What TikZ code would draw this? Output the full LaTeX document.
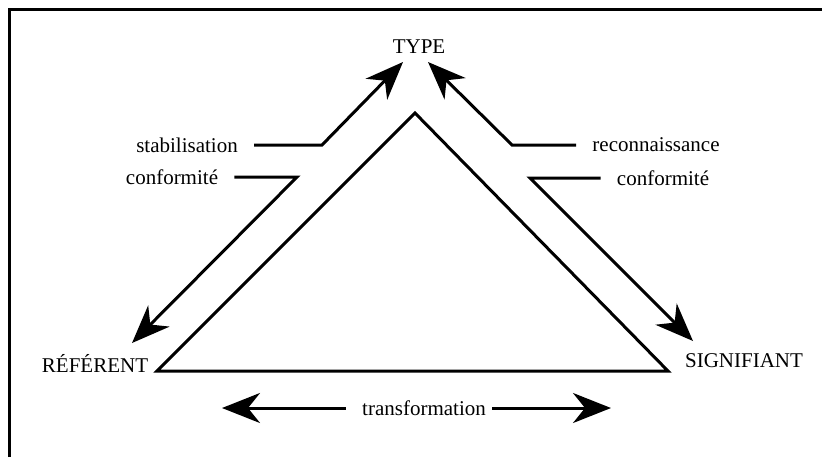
\documentclass[tikz,border=0pt]{standalone}
\usepackage{fontspec}
\setmainfont{Liberation Serif}
\usetikzlibrary{arrows.meta}

\begin{document}
\begin{tikzpicture}[x=0.5pt, y=-0.5pt, font=\fontsize{10.5}{12}\selectfont]
          \tikzstyle{word}=[inner sep=8pt]
          \tikzstyle{edge}=[line width=1.5pt]
          \tikzstyle{flow}=[line width=1.5pt, -{Stealth[length=19pt, width=15pt, inset=6pt]}]

          \useasboundingbox (0,0) rectangle (822,457);
          \draw[edge] (9.5,457) -- (9.5,9.5) -- (822,9.5);

          \node (type) at (419,47) [word] {TYPE};
          \node (referent) at (95,363) [word] {RÉFÉRENT};
          \node (signifiant) at (744,361) [word] {SIGNIFIANT};

          \node (stab) at (187,145) [word] {stabilisation};
          \node (confl) at (172,177) [word] {conformité};
          \node (recon) at (656,145) [word] {reconnaissance};
          \node (confr) at (663,178) [word] {conformité};
          \node (trans) at (424,408) [word] {transformation};

          \coordinate (apex) at (415,113);
          \coordinate (base l) at (157,371);
          \coordinate (base r) at (668,371);
          \draw[edge] (base l) -- (apex) -- (base r) -- cycle;

          \coordinate (stab bend) at (322,145);
          \coordinate (stab tip) at (403,62);
          \coordinate (recon bend) at (512,145);
          \coordinate (recon tip) at (428,62);
          \coordinate (confl bend) at (297,177);
          \coordinate (confl tip) at (132,343);
          \coordinate (confr bend) at (530,178);
          \coordinate (confr tip) at (693,341);
          \coordinate (trans l) at (222,408);
          \coordinate (trans r) at (611,408);

          \draw[flow] (stab.east) -- (stab bend) -- (stab tip);
          \draw[flow] (recon.west) -- (recon bend) -- (recon tip);
          \draw[flow] (confl.east) -- (confl bend) -- (confl tip);
          \draw[flow] (confr.west) -- (confr bend) -- (confr tip);
          \draw[flow] (trans.west) -- (trans l);
          \draw[flow] ([xshift=-5pt]trans.east) -- (trans r);
        \end{tikzpicture}
\end{document}
